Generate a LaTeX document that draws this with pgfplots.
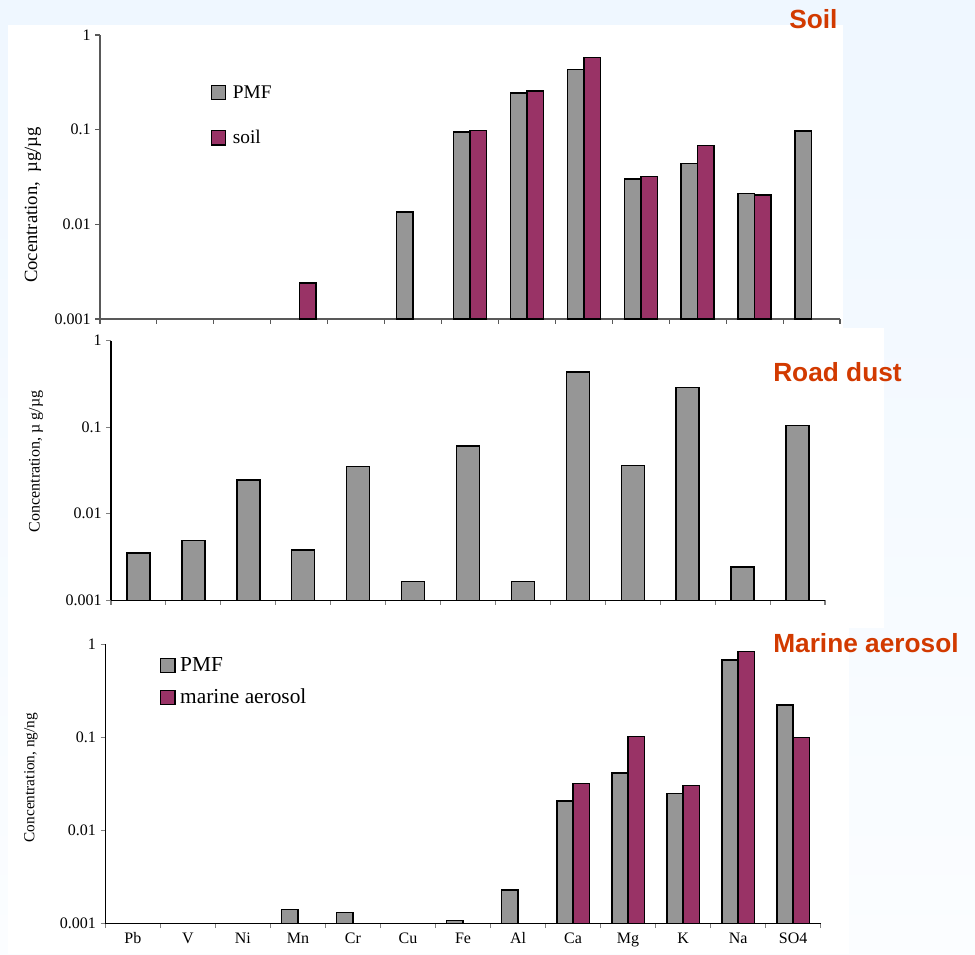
\documentclass[border=0pt]{standalone}
\usepackage{pgfplots}
\pgfplotsset{compat=1.18}
\usepackage{fontspec}
\setmainfont{Liberation Serif}
\newfontfamily\titlefont{Liberation Sans}
\definecolor{pmfgray}{RGB}{150,150,150}
\definecolor{srcpurple}{RGB}{153,51,102}
\definecolor{titlered}{RGB}{210,58,0}
\definecolor{bgtop}{RGB}{239,247,255}
\definecolor{bgbot}{RGB}{251,253,255}
\pgfplotsset{
  /pgfplots/area legend/.style={
    /pgfplots/legend image code/.code={
      \draw[##1,line width=0.8pt] (0pt,-5.3pt) rectangle (10.6pt,5.3pt);
    },
  },
}
\begin{document}
\begin{tikzpicture}
\begin{scope}[x=0.75pt,y=-0.75pt]
  \shade[top color=bgtop, bottom color=bgbot] (0,0) rectangle (975,954);
  \fill[white] (8,25) rectangle (843,328);
  \fill[white] (8,328) rectangle (884,628);
  \fill[white] (8,628) rectangle (849,954);
\end{scope}

% ---------- Soil ----------
\begin{axis}[
  scale only axis, ymode=log, ymin=0.001, ymax=1, log origin=infty,
  xmin=-0.5, xmax=12.5,
  axis x line*=bottom, axis y line*=left,
  axis line style={line width=0.8pt,-,black!65},
  tick align=outside, major tick length=3.5pt,
  tick style={line width=0.8pt,black!65},
  ytick={0.001,0.01,0.1,1}, yticklabels={0.001,0.01,0.1,1},
  yminorticks=false, xminorticks=false,
  xtick={-0.5,0.5,...,12.5}, xticklabels={},
  ybar=0pt, bar width=12.4pt,
  tick label style={font=\fontsize{12}{14}\selectfont},
  clip=false,
  at={(75pt,-239.25pt)}, anchor=south west,
  width=555pt, height=213pt,
  legend style={draw=none, fill=none, at={(0.1496,0.837)}, anchor=north west,
    font=\fontsize{14.5}{16}\selectfont, row sep=16.5pt, column sep=2pt, inner sep=0pt,
    nodes={inner sep=3pt}},
  legend cell align=left,
]
\addplot[fill=pmfgray, draw=black, line width=1.1pt, area legend]
  coordinates {(5,0.0135) (6,0.094) (7,0.245) (8,0.43) (9,0.030) (10,0.044) (11,0.0212) (12,0.097)};
\addlegendentry{PMF}
\addplot[fill=srcpurple, draw=black, line width=1.1pt, area legend]
  coordinates {(3,0.0024) (6,0.0985) (7,0.255) (8,0.58) (9,0.032) (10,0.068) (11,0.0204)};
\addlegendentry{soil}
\end{axis}

% ---------- Road dust ----------
\begin{axis}[
  scale only axis, ymode=log, ymin=0.001, ymax=1, log origin=infty,
  xmin=-0.5, xmax=12.5,
  axis x line*=bottom, axis y line*=left,
  axis line style={line width=0.8pt,-},
  tick align=outside, major tick length=3.5pt,
  tick style={line width=0.8pt},
  ytick={0.001,0.01,0.1,1}, yticklabels={0.001,0.01,0.1,1},
  yminorticks=false, xminorticks=false,
  xtick={-0.5,0.5,...,12.5}, xticklabels={},
  ybar=0pt, bar width=17.25pt,
  tick label style={font=\fontsize{12}{14}\selectfont},
  clip=false,
  at={(83.25pt,-450.2pt)}, anchor=south west,
  width=535.5pt, height=194.7pt,
]
\addplot[fill=pmfgray, draw=black, line width=1.1pt]
  coordinates {(0,0.0035) (1,0.0049) (2,0.0246) (3,0.0038) (4,0.035) (5,0.00164) (6,0.061) (7,0.00164) (8,0.436) (9,0.036) (10,0.287) (11,0.00243) (12,0.104)};
\end{axis}

% ---------- Marine aerosol ----------
\begin{axis}[
  scale only axis, ymode=log, ymin=0.001, ymax=1, log origin=infty,
  xmin=-0.5, xmax=12.5,
  axis x line*=bottom, axis y line*=left,
  axis line style={line width=0.8pt,-},
  tick align=outside, major tick length=3.5pt,
  tick style={line width=0.8pt},
  ytick={0.001,0.01,0.1,1}, yticklabels={0.001,0.01,0.1,1},
  yminorticks=false, xminorticks=false,
  xtick={-0.5,0.5,...,12.5},
  x tick label as interval,
  xticklabels={Pb,V,Ni,Mn,Cr,Cu,Fe,Al,Ca,Mg,K,Na,SO4},
  ybar=0pt, bar width=12.2pt,
  tick label style={font=\fontsize{12}{14}\selectfont},
  clip=false,
  at={(79pt,-692.5pt)}, anchor=south west,
  width=536.5pt, height=209.25pt,
  legend style={draw=none, fill=none, at={(0.0765,0.966)}, anchor=north west,
    font=\fontsize{16}{18}\selectfont, row sep=6.5pt, column sep=1pt, inner sep=0pt,
    nodes={inner sep=2.5pt}},
  legend cell align=left,
]
\addplot[fill=pmfgray, draw=black, line width=1.1pt, area legend]
  coordinates {(3,0.00141) (4,0.00131) (6,0.00107) (7,0.00228) (8,0.0208) (9,0.0416) (10,0.0248) (11,0.677) (12,0.224)};
\addlegendentry{PMF}
\addplot[fill=srcpurple, draw=black, line width=1.1pt, area legend]
  coordinates {(8,0.0317) (9,0.102) (10,0.0305) (11,0.84) (12,0.099)};
\addlegendentry{marine aerosol}
\end{axis}

\begin{scope}[x=0.75pt,y=-0.75pt]
  \node[anchor=base west, inner sep=0, text=titlered, font=\titlefont\bfseries\fontsize{19.7}{22}\selectfont] at (789,28.3) {Soil};
  \node[anchor=base west, inner sep=0, text=titlered, font=\titlefont\bfseries\fontsize{19.7}{22}\selectfont] at (773,381) {Road dust};
  \node[anchor=base west, inner sep=0, text=titlered, font=\titlefont\bfseries\fontsize{19.7}{22}\selectfont] at (773,652.3) {Marine aerosol};
  \node[rotate=90, inner sep=0, font=\fontsize{14}{16}\selectfont] at (33,205) {Cocentration,\ \ µg/µg};
  \node[rotate=90, inner sep=0, font=\fontsize{12}{14}\selectfont] at (36,461.5) {Concentration, µ g/µg};
  \node[rotate=90, inner sep=0, font=\fontsize{11.5}{14}\selectfont] at (31,777.5) {Concentration, ng/ng};
\end{scope}
\pgfresetboundingbox
\useasboundingbox (0pt,0pt) rectangle (731.25pt,-715.5pt);
\end{tikzpicture}
\end{document}
